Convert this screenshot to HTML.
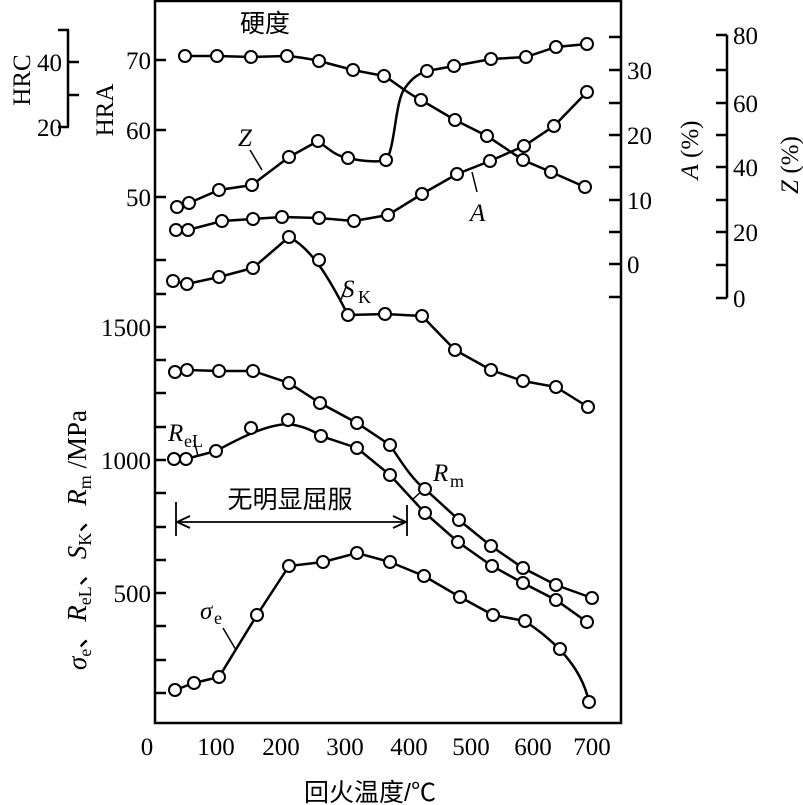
<!DOCTYPE html>
<html><head><meta charset="utf-8"><style>
body{margin:0;background:#fff}
svg{display:block}
text{font-family:"Liberation Serif","Noto Serif CJK SC",serif;fill:#000}
.cj{font-family:"Liberation Sans","Noto Sans CJK SC",sans-serif}
</style></head><body>
<svg width="803" height="805" viewBox="0 0 803 805" xmlns="http://www.w3.org/2000/svg">
<g stroke="#000" stroke-width="2.5" fill="none">
<path d="M155,0V723H621V0M155,1H621"/>
<path d="M155,60h11M155,130h11M155,197h11M155,260h11M155,294h11M155,327h11M155,360h11M155,393h11M155,427h11M155,460h11M155,493h11M155,527h11M155,560h11M155,593h11M155,626h11M155,660h11M155,693h11"/>
<path d="M621,37h-12M621,70h-12M621,103h-12M621,135h-12M621,167h-12M621,200h-12M621,232h-12M621,264h-12M621,297h-12"/>
<path d="M68,30V127M58,30h11M68,62h11M68,95h11M58,127h11"/>
<path d="M727,35V298M716,35h11M716,70h11M716,103h11M716,135h11M716,167h11M716,200h11M716,232h11M716,265h11M716,298h11"/>
</g>
<g font-size="25">
<text x="151" y="69" text-anchor="end">70</text>
<text x="151" y="139" text-anchor="end">60</text>
<text x="151" y="206" text-anchor="end">50</text>
<text x="151" y="336" text-anchor="end">1500</text>
<text x="151" y="469" text-anchor="end">1000</text>
<text x="151" y="602" text-anchor="end">500</text>
<text x="62" y="71" text-anchor="end">40</text>
<text x="62" y="136" text-anchor="end">20</text>
<text x="627" y="79">30</text><text x="627" y="144">20</text><text x="627" y="209">10</text><text x="627" y="273">0</text>
<text x="733" y="44">80</text><text x="733" y="112">60</text><text x="733" y="176">40</text><text x="733" y="241">20</text><text x="733" y="307">0</text>
<g text-anchor="middle">
<text x="147" y="755">0</text><text x="216" y="755">100</text><text x="281" y="755">200</text><text x="345" y="755">300</text><text x="409" y="755">400</text><text x="471" y="755">500</text><text x="533" y="755">600</text><text x="592" y="755">700</text>
</g>
<text transform="translate(30,80) rotate(-90)" text-anchor="middle">HRC</text>
<text transform="translate(113,110) rotate(-90)" text-anchor="middle">HRA</text>
<text transform="translate(698,150) rotate(-90)" text-anchor="middle"><tspan font-style="italic">A</tspan> (%)</text>
<text transform="translate(798,165) rotate(-90)" text-anchor="middle"><tspan font-style="italic">Z</tspan> (%)</text>
<text transform="translate(86,540) rotate(-90)" text-anchor="middle" font-size="27"><tspan font-style="italic">σ</tspan><tspan font-size="18" dy="5">e</tspan><tspan dy="-5" class="cj">、</tspan><tspan font-style="italic">R</tspan><tspan font-size="18" dy="5">eL</tspan><tspan dy="-5" class="cj">、</tspan><tspan font-style="italic">S</tspan><tspan font-size="18" dy="5">K</tspan><tspan dy="-5" class="cj">、</tspan><tspan font-style="italic">R</tspan><tspan font-size="18" dy="5">m</tspan><tspan dy="-5"> /MPa</tspan></text>
<text class="cj" x="265" y="32" text-anchor="middle">硬度</text>
<text class="cj" x="290" y="508" text-anchor="middle">无明显屈服</text>
<text class="cj" x="370" y="801" text-anchor="middle">回火温度/℃</text>
<text x="238" y="146" font-style="italic">Z</text>
<text x="470" y="221" font-style="italic">A</text>
<text x="342" y="297" font-style="italic">S</text><text x="358" y="303" font-size="18">K</text>
<text x="168" y="441" font-style="italic">R</text><text x="184" y="447" font-size="18">eL</text>
<text x="433" y="481" font-style="italic">R</text><text x="450" y="487" font-size="18">m</text>
<text x="200" y="619" font-style="italic">σ</text><text x="214" y="624" font-size="18">e</text>
</g>
<g stroke="#000" stroke-width="2.5" fill="none">
<path d="M250,150L262,170M472,172L477,192M340,302L346,287M194,440L198,456M425,488L412,500M223,628L236,650" stroke-width="1.5"/>
<path d="M176,502V536M407,505V536M176,522H407" stroke-width="1.8"/>
<path d="M190,516L177,522L190,528M393,516L406,522L393,528" stroke-width="1.8"/>
<path d="M185,56L217,56L251,57L287,56C300,57 310,59 319,61L353,70L384,76C395,82 405,92 421,100L455,120L487,136L523,160L551,172L585,187"/>
<path d="M177,207L189,203L219,190L252,185L289,157L318,141C330,150 336,156 348,158C365,162 380,162 386,160C395,150 395,100 405,88C412,78 418,74 427,71L454,66L491,59L526,57L556,47L587,44"/>
<path d="M176,230L188,230L222,221L253,219L282,217L319,218L354,221L388,215L422,194L457,174L490,161L524,146L554,126L587,92"/>
<path d="M173,281L187,284L219,277L253,268L289,237C315,250 335,290 348,315L385,314L422,316L455,350L491,370L523,381L556,387L588,407"/>
<path d="M175,372L187,370L219,371L253,371L289,383L320,403L357,423L390,445C405,468 415,482 425,489L459,520L491,546L523,568L556,585L592,598"/>
<path d="M174,459L186,459L216,451C240,438 265,425 288,424C305,426 315,432 321,436L357,448L390,475L425,513L458,542L492,566L523,583L556,600L587,622"/>
<path d="M175,690L194,683L219,677L257,615L289,566L323,562L357,553L390,562L424,576L460,597L493,615L525,621C545,635 580,660 589,702"/>
</g>
<g stroke="#000" stroke-width="2" fill="#fff">
<circle cx="185" cy="56" r="6"/><circle cx="217" cy="56" r="6"/><circle cx="251" cy="57" r="6"/><circle cx="287" cy="56" r="6"/><circle cx="319" cy="61" r="6"/><circle cx="353" cy="70" r="6"/><circle cx="384" cy="76" r="6"/><circle cx="421" cy="100" r="6"/><circle cx="455" cy="120" r="6"/><circle cx="487" cy="136" r="6"/><circle cx="523" cy="160" r="6"/><circle cx="551" cy="172" r="6"/><circle cx="585" cy="187" r="6"/>
<circle cx="177" cy="207" r="6"/><circle cx="189" cy="203" r="6"/><circle cx="219" cy="190" r="6"/><circle cx="252" cy="185" r="6"/><circle cx="289" cy="157" r="6"/><circle cx="318" cy="141" r="6"/><circle cx="348" cy="158" r="6"/><circle cx="386" cy="160" r="6"/><circle cx="427" cy="71" r="6"/><circle cx="454" cy="66" r="6"/><circle cx="491" cy="59" r="6"/><circle cx="526" cy="57" r="6"/><circle cx="556" cy="47" r="6"/><circle cx="587" cy="44" r="6"/>
<circle cx="176" cy="230" r="6"/><circle cx="188" cy="230" r="6"/><circle cx="222" cy="221" r="6"/><circle cx="253" cy="219" r="6"/><circle cx="282" cy="217" r="6"/><circle cx="319" cy="218" r="6"/><circle cx="354" cy="221" r="6"/><circle cx="388" cy="215" r="6"/><circle cx="422" cy="194" r="6"/><circle cx="457" cy="174" r="6"/><circle cx="490" cy="161" r="6"/><circle cx="524" cy="146" r="6"/><circle cx="554" cy="126" r="6"/><circle cx="587" cy="92" r="6"/>
<circle cx="173" cy="281" r="6"/><circle cx="187" cy="284" r="6"/><circle cx="219" cy="277" r="6"/><circle cx="253" cy="268" r="6"/><circle cx="289" cy="237" r="6"/><circle cx="319" cy="260" r="6"/><circle cx="348" cy="315" r="6"/><circle cx="385" cy="314" r="6"/><circle cx="422" cy="316" r="6"/><circle cx="455" cy="350" r="6"/><circle cx="491" cy="370" r="6"/><circle cx="523" cy="381" r="6"/><circle cx="556" cy="387" r="6"/><circle cx="588" cy="407" r="6"/>
<circle cx="175" cy="372" r="6"/><circle cx="187" cy="370" r="6"/><circle cx="219" cy="371" r="6"/><circle cx="253" cy="371" r="6"/><circle cx="289" cy="383" r="6"/><circle cx="320" cy="403" r="6"/><circle cx="357" cy="423" r="6"/><circle cx="390" cy="445" r="6"/><circle cx="425" cy="489" r="6"/><circle cx="459" cy="520" r="6"/><circle cx="491" cy="546" r="6"/><circle cx="523" cy="568" r="6"/><circle cx="556" cy="585" r="6"/><circle cx="592" cy="598" r="6"/>
<circle cx="174" cy="459" r="6"/><circle cx="186" cy="459" r="6"/><circle cx="216" cy="451" r="6"/><circle cx="251" cy="428" r="6"/><circle cx="288" cy="420" r="6"/><circle cx="321" cy="436" r="6"/><circle cx="357" cy="448" r="6"/><circle cx="390" cy="475" r="6"/><circle cx="425" cy="513" r="6"/><circle cx="458" cy="542" r="6"/><circle cx="492" cy="566" r="6"/><circle cx="523" cy="583" r="6"/><circle cx="556" cy="600" r="6"/><circle cx="587" cy="622" r="6"/>
<circle cx="175" cy="690" r="6"/><circle cx="194" cy="683" r="6"/><circle cx="219" cy="677" r="6"/><circle cx="257" cy="615" r="6"/><circle cx="289" cy="566" r="6"/><circle cx="323" cy="562" r="6"/><circle cx="357" cy="553" r="6"/><circle cx="390" cy="562" r="6"/><circle cx="424" cy="576" r="6"/><circle cx="460" cy="597" r="6"/><circle cx="493" cy="615" r="6"/><circle cx="525" cy="621" r="6"/><circle cx="560" cy="649" r="6"/><circle cx="589" cy="702" r="6"/>
</g>
</svg>
</body></html>
